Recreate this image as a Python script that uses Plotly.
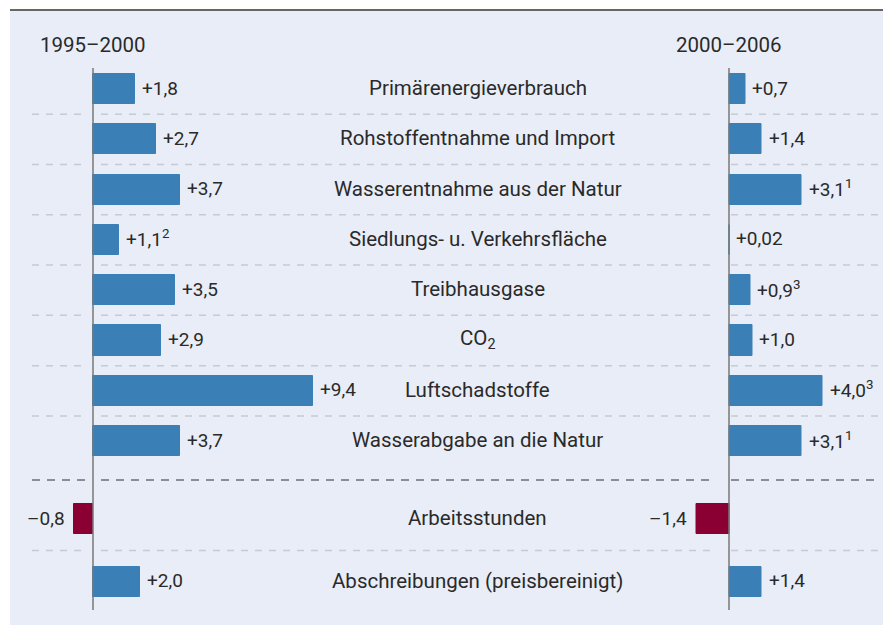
import plotly.graph_objects as go

# ---------------- data ----------------
categories = [
    "Primärenergieverbrauch",
    "Rohstoffentnahme und Import",
    "Wasserentnahme aus der Natur",
    "Siedlungs- u. Verkehrsfläche",
    "Treibhausgase",
    "CO<sub>2</sub>",
    "Luftschadstoffe",
    "Wasserabgabe an die Natur",
    "Arbeitsstunden",
    "Abschreibungen (preisbereinigt)",
]
values_1995_2000 = [1.8, 2.7, 3.7, 1.1, 3.5, 2.9, 9.4, 3.7, -0.8, 2.0]
labels_1995_2000 = ["+1,8", "+2,7", "+3,7", "+1,1<sup>2</sup>", "+3,5", "+2,9",
                    "+9,4", "+3,7", "–0,8", "+2,0"]
values_2000_2006 = [0.7, 1.4, 3.1, 0.02, 0.9, 1.0, 4.0, 3.1, -1.4, 1.4]
labels_2000_2006 = ["+0,7", "+1,4", "+3,1<sup>1</sup>", "+0,02", "+0,9<sup>3</sup>",
                    "+1,0", "+4,0<sup>3</sup>", "+3,1<sup>1</sup>", "–1,4", "+1,4"]
period_labels = ["1995–2000", "2000–2006"]

# ---------------- layout constants ----------------
OFF = 8                      # page body margin of the html page
W, H = 891 - OFF, 625 - OFF  # figure size
FONT = "Roboto"
TXT = "#2A2A2A"
BLUE = "#3A80B6"
RED = "#8A0033"
BG = "#E9EDF7"


def px(x):   # reference page x pixel -> paper
    return (x - OFF) / W


def py(y):   # reference page y pixel -> paper
    return 1 - (y - OFF) / H


# row positions (row units); last two rows set apart
ypos = list(range(8)) + [8.55, 9.8]
row_px, row0_px = 50.3, 89.0
y_top = (OFF - row0_px) / row_px
y_bot = (625 - row0_px) / row_px

scale = 23.45  # px per unit
ax1_px, ax2_px = 93.0, 729.0
half = W / 2
x1_range = [(OFF - ax1_px) / scale, (OFF + half - ax1_px) / scale]
x2_range = [(OFF + half - ax2_px) / scale, (OFF + W - ax2_px) / scale]

fig = go.Figure()

for vals, xa in [(values_1995_2000, "x"), (values_2000_2006, "x2")]:
    cols = [BLUE if v >= 0 else RED for v in vals]
    fig.add_trace(go.Bar(
        x=vals, y=ypos, orientation="h", xaxis=xa, yaxis="y",
        width=0.6,
        marker=dict(color=cols, line=dict(width=1, color=cols)),
        hoverinfo="skip", showlegend=False,
    ))

annotations = []
for vals, labs, xr in [(values_1995_2000, labels_1995_2000, "x"),
                       (values_2000_2006, labels_2000_2006, "x2")]:
    for v, lab, y in zip(vals, labs, ypos):
        annotations.append(dict(
            x=v, y=y, xref=xr, yref="y", text=lab, showarrow=False,
            xanchor="left" if v >= 0 else "right",
            xshift=5 if v >= 0 else -7, yshift=1,
            font=dict(family=FONT, size=19, color=TXT),
        ))

for cat, y in zip(categories, ypos):
    annotations.append(dict(
        x=px(478), y=y, xref="paper", yref="y", text=cat, showarrow=False,
        xanchor="center", yshift=1, font=dict(family=FONT, size=20.5, color=TXT),
    ))

for lab, xr in zip(period_labels, ["x", "x2"]):
    annotations.append(dict(
        x=0, y=py(45), xref=xr, yref="paper", text=lab, showarrow=False,
        xanchor="center", yanchor="middle",
        font=dict(family=FONT, size=20.5, color=TXT),
    ))

shapes = [
    dict(type="rect", xref="paper", yref="paper", x0=px(10), x1=px(890),
         y0=0, y1=py(10), fillcolor=BG, line=dict(width=0), layer="below"),
    dict(type="line", xref="paper", yref="paper", x0=px(10), x1=px(888),
         y0=py(10), y1=py(10), line=dict(color="#666666", width=2)),
]

# separators
segs = [(32, 87), (101, 716), (731, 880)]
seps = [(ypos[i] + ypos[i + 1]) / 2 for i in range(len(ypos) - 1)]
for k, ys in enumerate(seps):
    dark = (k == 7)
    for a, b in segs:
        shapes.append(dict(
            type="line", xref="paper", yref="y", x0=px(a), x1=px(b), y0=ys, y1=ys,
            line=dict(color="#8A8D94" if dark else "#C6CAD3",
                      width=2 if dark else 1.5,
                      dash="8px,7px" if dark else "7px,7px"),
            layer="below",
        ))

# vertical zero axes
for xr in ["x", "x2"]:
    shapes.append(dict(type="line", xref=xr, yref="y", x0=0, x1=0,
                       y0=(68 - row0_px) / row_px, y1=(610 - row0_px) / row_px,
                       line=dict(color="#777777", width=1.5)))

fig.update_layout(
    width=W, height=H,
    margin=dict(l=0, r=0, t=0, b=0),
    paper_bgcolor="white", plot_bgcolor="rgba(0,0,0,0)",
    xaxis=dict(domain=[0, 0.5], range=x1_range, visible=False, fixedrange=True),
    xaxis2=dict(domain=[0.5, 1], range=x2_range, visible=False, fixedrange=True),
    yaxis=dict(domain=[0, 1], range=[y_bot, y_top], visible=False, fixedrange=True),
    bargap=0, barmode="overlay",
    annotations=annotations, shapes=shapes,
    font=dict(family=FONT, color=TXT),
)

fig.write_html("out.html")
